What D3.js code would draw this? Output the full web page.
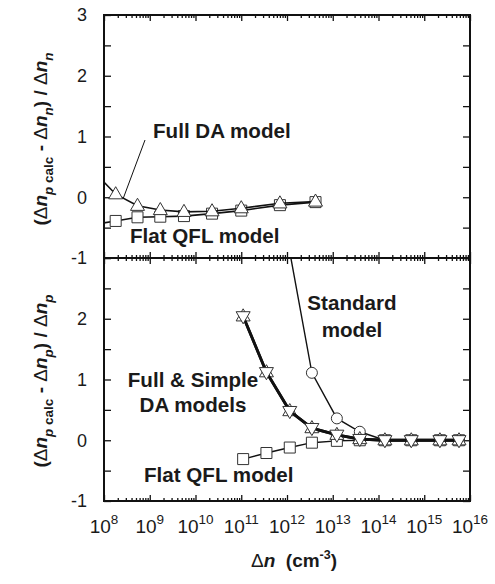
<!DOCTYPE html>
<html><head><meta charset="utf-8">
<script src="https://cdn.jsdelivr.net/npm/d3@7"></script>
<style>
body{margin:0;background:#fff;}
svg text{font-family:"Liberation Sans",Arial,Helvetica,sans-serif;fill:#1a1a1a;}
</style></head>
<body><svg id="c" width="495" height="584"></svg>
<script>
// ---------- data ----------
const xMajorTicks = [1e8,1e9,1e10,1e11,1e12,1e13,1e14,1e15,1e16];
const yTickValues = [-1,-0.5,0,0.5,1,1.5,2,2.5,3];
const topYLabels = [-1,0,1,2,3];
const botYLabels = [-1,0,1,2];

// top panel: (dn_p calc - dn_n)/dn_n
const topX       = [6e7, 1.8e8, 5.4e8, 1.7e9, 5.6e9, 2.3e10, 1e11, 7e11, 4.2e12];
const topFullDA  = [0.42, 0.05, -0.14, -0.21, -0.24, -0.23, -0.18, -0.10, -0.07];
const topFlatQFL = [-0.45, -0.39, -0.33, -0.32, -0.31, -0.27, -0.22, -0.13, -0.08];

// bottom panel: (dn_p calc - dn_p)/dn_p
const botX        = [1.1e11, 3.55e11, 1.15e12, 3.5e12, 1.23e13, 3.9e13, 1.38e14, 5.2e14, 2.2e15, 5.75e15];
const botFullDA   = [2.04, 1.12, 0.48, 0.20, 0.09, 0.02, 0, 0, 0, 0];
const botSimpleDA = [2.04, 1.12, 0.48, 0.20, 0.09, 0.02, 0, 0, 0, 0];
const botStandard = [null, null, 3.1, 1.11, 0.36, 0.14, 0, 0, 0, 0];
const botFlatQFL  = [-0.31, -0.21, -0.12, -0.04, -0.01, 0, 0, 0, 0, 0];

// ---------- layout ----------
const L = 104, R = 470, T = 15, M = 258, B = 501;
const svg = d3.select("#c");
const x = d3.scaleLog().domain([1e8,1e16]).range([L,R]);
const yTop = d3.scaleLinear().domain([-1,3]).range([M,T]);
const yBot = d3.scaleLinear().domain([-1,3]).range([B,M]);

const minorTicks = [];
for (let e=8;e<16;e++) for (let k=2;k<=9;k++) minorTicks.push(k*Math.pow(10,e));

const defs = svg.append("defs");
defs.append("clipPath").attr("id","clipTop").append("rect").attr("x",L).attr("y",T).attr("width",R-L).attr("height",M-T);
defs.append("clipPath").attr("id","clipBot").append("rect").attr("x",L).attr("y",M).attr("width",R-L).attr("height",B-M);

function xAxes(yPos, dir){
  const mk = (vals,len)=>{
    const ax = (dir>0? d3.axisTop(x) : d3.axisBottom(x)).tickValues(vals).tickFormat("").tickSizeInner(-len).tickSizeOuter(0);
    const g = svg.append("g").attr("transform",`translate(0,${yPos})`).call(ax);
    g.select(".domain").remove();
    g.selectAll("line").attr("stroke","#111").attr("stroke-width",1.3);
  };
  mk(xMajorTicks,6); mk(minorTicks,3);
}
xAxes(T, 1);
xAxes(M, -1);
xAxes(M, 1);
xAxes(B, -1);

function yAxes(scale, labels){
  const gl = svg.append("g").attr("transform",`translate(${L},0)`)
    .call(d3.axisLeft(scale).tickValues(yTickValues).tickSizeInner(-7).tickSizeOuter(0).tickPadding(17)
      .tickFormat(d=> labels.includes(d)? String(d) : ""));
  gl.select(".domain").remove();
  gl.selectAll("line").attr("stroke","#111").attr("stroke-width",1.3);
  gl.selectAll("text").attr("font-size",18).attr("fill","#1a1a1a").style("font-family",'"Liberation Sans",Arial,sans-serif');
  const gr = svg.append("g").attr("transform",`translate(${R},0)`)
    .call(d3.axisRight(scale).tickValues(yTickValues).tickSizeInner(-7).tickSizeOuter(0).tickFormat(""));
  gr.select(".domain").remove();
  gr.selectAll("line").attr("stroke","#111").attr("stroke-width",1.3);
}
yAxes(yTop, topYLabels);
yAxes(yBot, botYLabels);

svg.append("rect").attr("x",L).attr("y",T).attr("width",R-L).attr("height",B-T)
  .attr("fill","none").attr("stroke","#111").attr("stroke-width",2);
svg.append("line").attr("x1",L).attr("x2",R).attr("y1",M).attr("y2",M).attr("stroke","#111").attr("stroke-width",2);

const xl = svg.append("g").selectAll("text").data(xMajorTicks).join("text")
  .attr("x",d=>x(d)).attr("y",533).attr("text-anchor","middle").attr("font-size",19);
xl.append("tspan").text("10");
xl.append("tspan").attr("font-size",13.5).attr("dy",-9).text(d=>Math.round(Math.log10(d)));

// ---------- series ----------
function triUp(s){ const h=s*0.866; return `M0,${-h*0.62}L${s/2},${h*0.38}L${-s/2},${h*0.38}Z`; }
function triDown(s){ const h=s*0.866; return `M0,${h*0.62}L${s/2},${-h*0.38}L${-s/2},${-h*0.38}Z`; }

function series(clip, xs, ys, yScale, lw){
  const g = svg.append("g").attr("clip-path",`url(#${clip})`);
  const pts = xs.map((v,i)=>({x:v,y:ys[i]})).filter(p=>p.y!==null);
  g.append("path").datum(pts)
    .attr("d", d3.line().x(p=>x(p.x)).y(p=>yScale(p.y)))
    .attr("fill","none").attr("stroke","#111").attr("stroke-width",lw);
  return {g, pts};
}
function markers(o, yScale, type){
  const sel = o.g.selectAll(null).data(o.pts).join(type==="circle"?"circle":"path");
  if (type==="circle"){
    sel.attr("cx",p=>x(p.x)).attr("cy",p=>yScale(p.y)).attr("r",5.5);
  } else if (type==="square"){
    sel.attr("d","M-5.5,-5.5H5.5V5.5H-5.5Z").attr("transform",p=>`translate(${x(p.x)},${yScale(p.y)})`);
  } else if (type==="up"){
    sel.attr("d",triUp(14)).attr("transform",p=>`translate(${x(p.x)},${yScale(p.y)})`);
  } else {
    sel.attr("d",triDown(14)).attr("transform",p=>`translate(${x(p.x)},${yScale(p.y)})`);
  }
  sel.attr("fill","#fff").attr("stroke","#333").attr("stroke-width",1);
}

const tQ = series("clipTop", topX, topFlatQFL, yTop, 1.6);
const tD = series("clipTop", topX, topFullDA, yTop, 1.6);
markers(tQ, yTop, "square");
markers(tD, yTop, "up");

const bS = series("clipBot", botX, botStandard, yBot, 1.4);
const bQ = series("clipBot", botX, botFlatQFL, yBot, 1.4);
const bF = series("clipBot", botX, botFullDA, yBot, 2.8);
const bSi = series("clipBot", botX, botSimpleDA, yBot, 2.8);
markers(bS, yBot, "circle");
markers(bQ, yBot, "square");
markers(bF, yBot, "up");
markers(bSi, yBot, "down");

// ---------- annotations ----------
const ann = (t,xp,yp,anchor)=>svg.append("text").attr("x",xp).attr("y",yp).attr("font-size",20.6)
  .attr("font-weight","bold").attr("text-anchor",anchor||"start").text(t);
ann("Full DA model",153,138);
svg.append("line").attr("x1",145).attr("y1",140).attr("x2",123).attr("y2",199).attr("stroke","#111").attr("stroke-width",1);
ann("Flat QFL model",130,243);
ann("Standard",352,310,"middle");
ann("model",352,337,"middle");
ann("Full & Simple",193,387,"middle");
ann("DA models",193,412,"middle");
ann("Flat QFL model",144,482);

// ---------- axis titles ----------
const xt = svg.append("text").attr("x",294).attr("y",567).attr("text-anchor","middle")
  .attr("font-size",19).attr("font-weight","bold");
xt.append("tspan").attr("font-weight","normal").text("\u0394");
xt.append("tspan").attr("font-style","italic").text("n");
xt.append("tspan").text("\u00a0\u00a0(cm");
xt.append("tspan").attr("font-size",12.5).attr("dy",-8).text("-3");
xt.append("tspan").attr("dy",8).text(")");

function yTitle(cy, sub2, sub3){
  const t = svg.append("text").attr("transform",`translate(47,${cy}) rotate(-90)`)
    .attr("text-anchor","middle").attr("font-size",19).attr("font-weight","bold");
  const D = ()=>t.append("tspan").attr("font-weight","normal").text("\u0394");
  const N = ()=>t.append("tspan").attr("font-style","italic").text("n");
  const S = (parts)=>{
    let first=true;
    parts.forEach(([txt,it])=>{
      const ts=t.append("tspan").attr("font-size",13.5).text(txt);
      if(it) ts.attr("font-style","italic");
      if(first){ts.attr("dy",6); first=false;}
    });
  };
  const up = (txt)=>t.append("tspan").attr("dy",-6).text(txt);
  t.append("tspan").text("("); D(); N(); S([["p",true],[" calc",false]]);
  up(" - "); D(); N(); S([[sub2,true]]);
  up(") / "); D(); N(); S([[sub3,true]]);
}
yTitle(139, "n", "n");
yTitle(381, "p", "p");
</script></body></html>
